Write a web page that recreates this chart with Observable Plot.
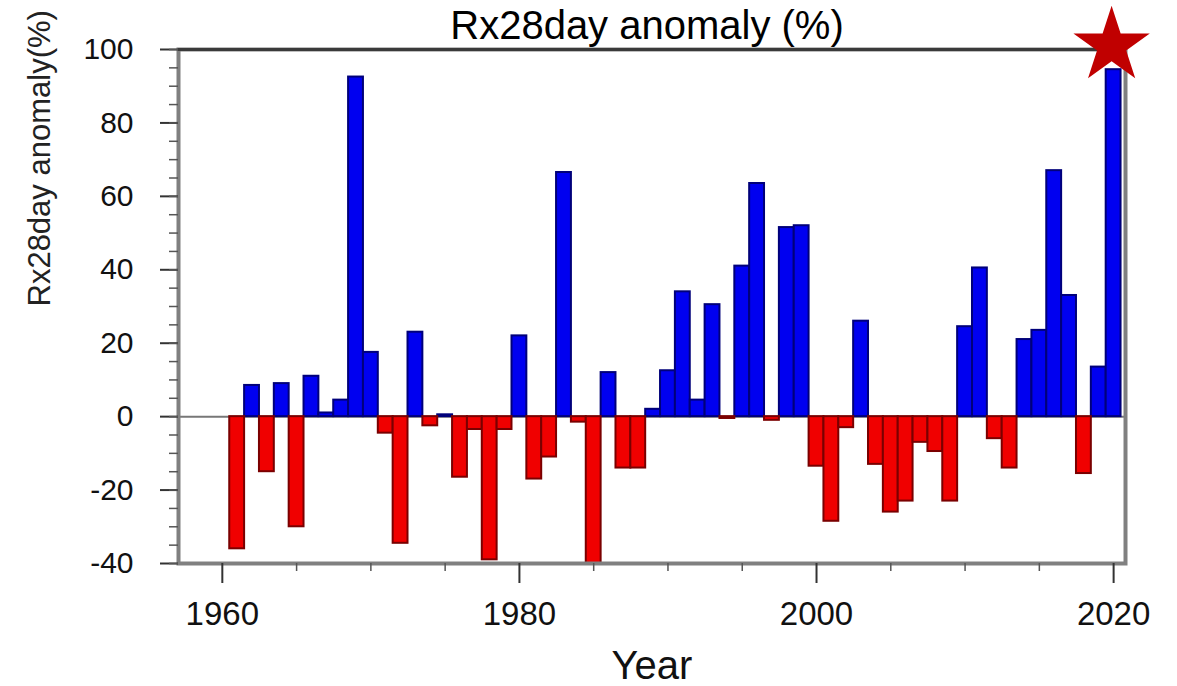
<!DOCTYPE html>
<html><head><meta charset="utf-8">
<script src="https://cdn.jsdelivr.net/npm/d3@7"></script>
<script src="https://cdn.jsdelivr.net/npm/@observablehq/plot@0.6"></script>
<style>body{margin:0;background:#fff;overflow:hidden;}</style>
</head><body><div id="chart"></div>
<script>
const years = d3.range(1961, 2021);
const anomalies = [
  -36, 8.5, -15, 9, -30, 11, 1, 4.5, 92.5, 17.5,   // 1961-1970
  -4.5, -34.5, 23, -2.5, 0.5, -16.5, -3.5, -39, -3.5, 22, // 1971-1980
  -17, -11, 66.5, -1.5, -40, 12, -14, -14, 2, 12.5, // 1981-1990
  34, 4.5, 30.5, -0.5, 41, 63.5, -1, 51.5, 52, -13.5, // 1991-2000
  -28.5, -3, 26, -13, -26, -23, -7, -9.5, -23, 24.5, // 2001-2010
  40.5, -6, -14, 21, 23.5, 67, 33, -15.5, 13.5, 94.5 // 2011-2020
];
const titleText = "Rx28day anomaly (%)";
const yLabel = "Rx28day anomaly(%)";
const xLabel = "Year";
const yMajorTicks = [-40, -20, 0, 20, 40, 60, 80, 100];
const yMinorTicks = d3.range(-40, 101, 5);
const xMajorTicks = [1960, 1980, 2000, 2020];
const xMinorTicks = [1965, 1970, 1975, 1985, 1990, 1995, 2005, 2010, 2015];
const highlight = [{year: 2020, value: 101}];

const data = years.map((year, i) => ({year, value: anomalies[i]}));
const pos = data.filter(d => d.value >= 0);
const neg = data.filter(d => d.value < 0);

const chart = Plot.plot({
  width: 1177,
  height: 686,
  marginLeft: 178,
  marginRight: 52,
  marginTop: 49,
  marginBottom: 123,
  style: {fontFamily: "'Liberation Sans', Arial, sans-serif", background: "#fff", overflow: "visible", color: "#111"},
  x: {domain: [1957.05, 2020.8]},
  y: {domain: [-40, 100]},
  marks: [
    Plot.ruleY([0], {stroke: "#777", strokeWidth: 2}),
    Plot.rectY(pos, {x1: d => d.year - 0.5, x2: d => d.year + 0.5, y1: 0, y2: "value", fill: "#0000f0", stroke: "#00007a", strokeWidth: 2}),
    Plot.rectY(neg, {x1: d => d.year - 0.5, x2: d => d.year + 0.5, y1: 0, y2: "value", fill: "#f00000", stroke: "#7a0000", strokeWidth: 2}),
    Plot.frame({stroke: "#808080", strokeWidth: 4}),
    Plot.ruleY([100], {stroke: "#3a3a3a", strokeWidth: 3}),
    Plot.axisY(yMajorTicks, {tickSize: 18, tickPadding: 27, fontSize: 30, tickFormat: d => String(d), label: null, stroke: "#333", strokeWidth: 2, fill: "#111"}),
    Plot.axisY(yMinorTicks, {tickSize: 9, fill: "none", label: null, stroke: "#555", strokeWidth: 1.5}),
    Plot.axisX(xMajorTicks, {tickSize: 20, tickPadding: 18, fontSize: 33, tickFormat: d => String(d), label: null, stroke: "#333", strokeWidth: 2, fill: "#111"}),
    Plot.axisX(xMinorTicks, {tickSize: 8, fill: "none", label: null, stroke: "#555", strokeWidth: 1.5}),
    Plot.text([titleText], {text: d => d, frameAnchor: "top", dy: -11, dx: -5, lineAnchor: "bottom", fontSize: 40, fill: "#000"}),
    Plot.text([yLabel], {text: d => d, frameAnchor: "left", rotate: -90, dx: -138, lineAnchor: "middle", fontSize: 31, fill: "#222"}),
    Plot.text([xLabel], {text: d => d, frameAnchor: "bottom", dy: 103, lineAnchor: "middle", fontSize: 40, fill: "#111"}),
    Plot.dot(highlight, {x: "year", y: "value", symbol: "star", r: 24, fill: "#c00000", stroke: "none", dx: -2})
  ]
});
document.getElementById("chart").appendChild(chart);
</script>
</body></html>
